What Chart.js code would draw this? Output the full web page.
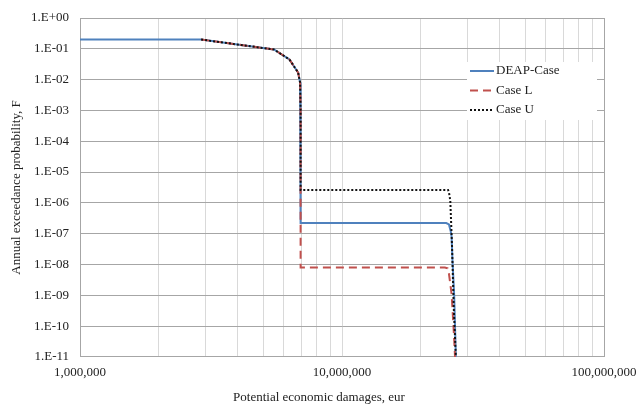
<!DOCTYPE html>
<html>
<head>
<meta charset="utf-8">
<script src="https://cdn.jsdelivr.net/npm/chart.js@4"></script>
<style>
  html, body { margin: 0; padding: 0; background: #fff; }
  #wrap { width: 638px; height: 407px; }
</style>
</head>
<body>
<div id="wrap"><canvas id="fcurve" width="638" height="407"></canvas></div>
<script>
// series values (x = damages in eur, y = annual exceedance probability)
var deapX = [1e6, 2.9e6, 5.5e6, 6.3e6, 6.8e6, 6.92e6, 6.95e6, 6.95e6, 2.5e7, 2.56e7, 2.6e7, 2.62e7, 2.64e7, 2.68e7, 2.72e7];
var deapY = [0.2, 0.2, 0.095, 0.045, 0.017, 0.008, 1e-3, 2.2e-7, 2.2e-7, 2.0e-7, 1.2e-7, 8e-8, 1.4e-8, 1e-9, 1e-11];

var caseLX = [2.9e6, 5.5e6, 6.3e6, 6.8e6, 6.92e6, 6.95e6, 6.95e6, 2.47e7, 2.53e7, 2.56e7, 2.62e7, 2.67e7, 2.70e7];
var caseLY = [0.2, 0.095, 0.045, 0.017, 0.008, 1e-3, 8e-9, 8e-9, 7.5e-9, 5e-9, 1.1e-9, 7e-11, 1e-11];

var caseUX = [2.9e6, 5.5e6, 6.3e6, 6.8e6, 6.92e6, 6.95e6, 6.95e6, 2.54e7, 2.56e7, 2.59e7, 2.63e7, 2.67e7, 2.72e7];
var caseUY = [0.2, 0.095, 0.045, 0.017, 0.008, 1e-3, 2.6e-6, 2.6e-6, 2.2e-6, 1.2e-6, 4e-8, 4e-10, 1e-11];

var seriesNames = ["DEAP-Case", "Case L", "Case U"];

// tick labels
var xTickValues = [1e6, 1e7, 1e8];
var yTickValues = [1, 1e-1, 1e-2, 1e-3, 1e-4, 1e-5, 1e-6, 1e-7, 1e-8, 1e-9, 1e-10, 1e-11];

function toPoints(xs, ys) {
  return xs.map(function (x, i) { return { x: x, y: ys[i] }; });
}

function sci(v) {
  var e = Math.round(Math.log10(v));
  var s = Math.abs(e) < 10 ? '0' + Math.abs(e) : '' + Math.abs(e);
  return '1.E' + (e < 0 ? '-' : '+') + s;
}

var serif = 'Liberation Serif, "Times New Roman", serif';

// legend drawn inside the plot, on a white box
var boxLegend = {
  id: 'boxLegend',
  afterDatasetsDraw: function (chart) {
    var ctx = chart.ctx;
    ctx.save();
    ctx.fillStyle = '#fff';
    ctx.fillRect(467, 62, 130, 58);
    var rows = [71, 90.5, 110];
    chart.data.datasets.forEach(function (ds, i) {
      ctx.beginPath();
      ctx.strokeStyle = ds.borderColor;
      ctx.lineWidth = ds.borderWidth;
      ctx.setLineDash(ds.borderDash || []);
      ctx.moveTo(470, rows[i]);
      ctx.lineTo(494, rows[i]);
      ctx.stroke();
      ctx.setLineDash([]);
      ctx.fillStyle = '#222';
      ctx.font = '13px ' + serif;
      ctx.textBaseline = 'middle';
      ctx.fillText(ds.label, 496, rows[i]);
    });
    ctx.restore();
  }
};

var chart = new Chart(document.getElementById('fcurve').getContext('2d'), {
  type: 'scatter',
  data: {
    datasets: [
      {
        label: seriesNames[0],
        data: toPoints(deapX, deapY),
        showLine: true,
        borderColor: '#4f81bd',
        borderWidth: 2,
        pointRadius: 0,
        order: 2
      },
      {
        label: seriesNames[1],
        data: toPoints(caseLX, caseLY),
        showLine: true,
        borderColor: '#c0504d',
        borderWidth: 2,
        borderDash: [8, 5],
        pointRadius: 0,
        order: 1
      },
      {
        label: seriesNames[2],
        data: toPoints(caseUX, caseUY),
        showLine: true,
        borderColor: '#111',
        borderWidth: 2,
        borderDash: [2, 2],
        pointRadius: 0,
        order: 0
      }
    ]
  },
  options: {
    responsive: false,
    animation: false,
    layout: { padding: { top: 0, right: 0, bottom: 2, left: 0 } },
    plugins: {
      legend: { display: false },
      tooltip: { enabled: false },
      title: {
        display: true,
        position: 'bottom',
        text: 'Potential economic damages, eur',
        color: '#222',
        font: { family: serif, size: 13, weight: 'normal' },
        padding: 0
      }
    },
    scales: {
      x: {
        type: 'logarithmic',
        min: 1e6,
        max: 1e8,
        afterBuildTicks: function (scale) {
          var t = [];
          for (var d = 1e6; d < 1e8; d *= 10) {
            for (var m = 1; m < 10; m++) t.push({ value: m * d });
          }
          t.push({ value: 1e8 });
          scale.ticks = t;
        },
        afterFit: function (scale) {
          scale.height = 32.5;
          scale.paddingLeft = 0;
          scale.paddingRight = 34;
        },
        ticks: {
          autoSkip: false,
          maxRotation: 0,
          padding: 8,
          color: '#222',
          font: { family: serif, size: 13 },
          callback: function (v) {
            return xTickValues.indexOf(v) >= 0 ? v.toLocaleString('en-US') : '';
          }
        },
        grid: {
          drawTicks: false,
          color: function (c) { return c.tick && c.tick.value === 1e8 ? '#a6a6a6' : '#d9d9d9'; }
        },
        border: { color: '#a6a6a6' }
      },
      y: {
        type: 'logarithmic',
        min: 1e-11,
        max: 1,
        afterBuildTicks: function (scale) {
          scale.ticks = yTickValues.map(function (v) { return { value: v }; });
        },
        afterFit: function (scale) {
          scale.width = 80;
          scale.paddingTop = 18;
          scale.paddingBottom = 0;
        },
        ticks: {
          autoSkip: false,
          padding: 11,
          color: '#222',
          font: { family: serif, size: 13 },
          callback: function (v) { return sci(v); }
        },
        grid: { drawTicks: false, color: '#a6a6a6' },
        border: { color: '#a6a6a6' },
        title: {
          display: true,
          text: 'Annual exceedance probability, F',
          color: '#222',
          font: { family: serif, size: 13 },
          padding: { top: 9, bottom: 0 }
        }
      }
    }
  },
  plugins: [boxLegend]
});
</script>
</body>
</html>
